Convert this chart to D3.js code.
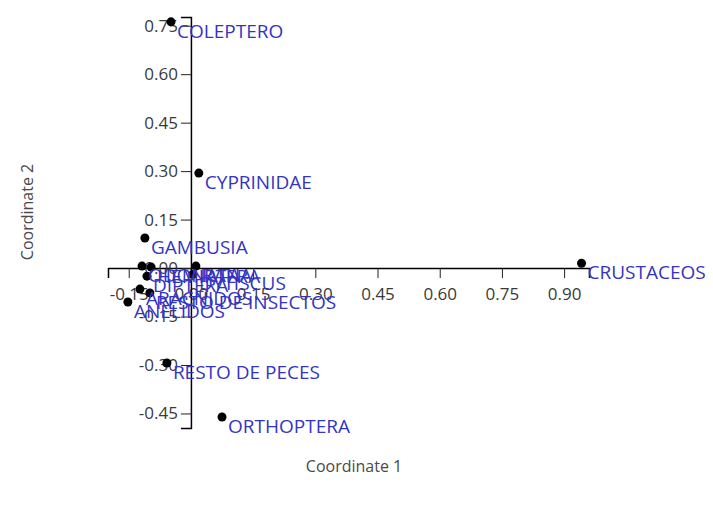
<!DOCTYPE html>
<html>
<head>
<meta charset="utf-8">
<script src="https://cdn.jsdelivr.net/npm/d3@7"></script>
<style>
  body { margin: 0; background: #fff; }
  svg, svg text { font-family: "Open Sans", "Noto Sans", sans-serif; }
</style>
</head>
<body>
<div id="chart"></div>
<script>
// point labels and coordinates
var labels = ['COLEPTERO', 'CYPRINIDAE', 'GAMBUSIA', 'CRUSTACEOS', 'RESTO DE PECES', 'ORTHOPTERA',
              'RANA', 'ODONATA', 'HEMIPTERA', 'DYTISCUS', 'DIPTERA', 'ARACNIDOS', 'RESTO DE INSECTOS', 'ANELIDOS'];
var coord1 = [-0.048, 0.019, -0.111, 0.942, -0.058, 0.075,
              0.012, -0.118, -0.096, 0.005, -0.106, -0.123, -0.099, -0.152];
var coord2 = [0.762, 0.294, 0.093, 0.015, -0.294, -0.461,
              0.006, 0.006, 0.003, -0.019, -0.025, -0.065, -0.077, -0.105];
var xTicks = [-0.15, 0, 0.15, 0.30, 0.45, 0.60, 0.75, 0.90];
var yTicks = [-0.45, -0.30, -0.15, 0, 0.15, 0.30, 0.45, 0.60, 0.75];

var width = 713, height = 509;
var svg = d3.select('#chart').append('svg')
    .attr('width', width)
    .attr('height', height);

var x = d3.scaleLinear().domain([-0.2, 0.96]).range([108, 589]);
var y = d3.scaleLinear().domain([-0.495, 0.777]).range([428, 17]);

// plain hyphen minus, like the original
var fmt = function(d) { return d.toFixed(2); };

// axes cross at the origin
var xAxis = d3.axisBottom(x).tickValues(xTicks).tickFormat(fmt).tickSizeOuter(0).tickSize(10).tickPadding(10);
var yAxis = d3.axisLeft(y).tickValues(yTicks).tickFormat(fmt).tickSizeOuter(0).tickSize(10).tickPadding(3);

var gx = svg.append('g').attr('transform', 'translate(0,' + y(0) + ')').call(xAxis);
var gy = svg.append('g').attr('transform', 'translate(' + x(0) + ',0)').call(yAxis);
[gx, gy].forEach(function(g) {
  g.attr('font-family', null).attr('font-size', null);
  g.select('.domain').attr('stroke', '#000').attr('stroke-width', 1.5);
  g.selectAll('.tick line').attr('stroke', '#222');
  g.selectAll('.tick text').attr('fill', '#3a3a3a').style('font-size', '17px');
});

// points
var data = labels.map(function(d, i) { return {label: d, c1: coord1[i], c2: coord2[i]}; });
svg.selectAll('circle.pt')
    .data(data)
    .enter()
    .append('circle')
    .attr('class', 'pt')
    .attr('cx', function(d) { return x(d.c1); })
    .attr('cy', function(d) { return y(d.c2); })
    .attr('r', 4.5)
    .attr('fill', '#000');

svg.selectAll('text.lbl')
    .data(data)
    .enter()
    .append('text')
    .attr('class', 'lbl')
    .attr('x', function(d) { return x(d.c1) + 6; })
    .attr('y', function(d) { return y(d.c2) + 16; })
    .attr('fill', '#3434c4')
    .style('font-size', '19px')
    .text(function(d) { return d.label; });

// axis titles
svg.append('text')
    .attr('x', 354).attr('y', 472)
    .attr('text-anchor', 'middle')
    .attr('fill', '#4a4a4a')
    .style('font-size', '16px')
    .text('Coordinate 1');

svg.append('text')
    .attr('transform', 'translate(33,212) rotate(-90)')
    .attr('text-anchor', 'middle')
    .attr('fill', '#4a4a4a')
    .style('font-size', '16px')
    .text('Coordinate 2');
</script>
</body>
</html>
